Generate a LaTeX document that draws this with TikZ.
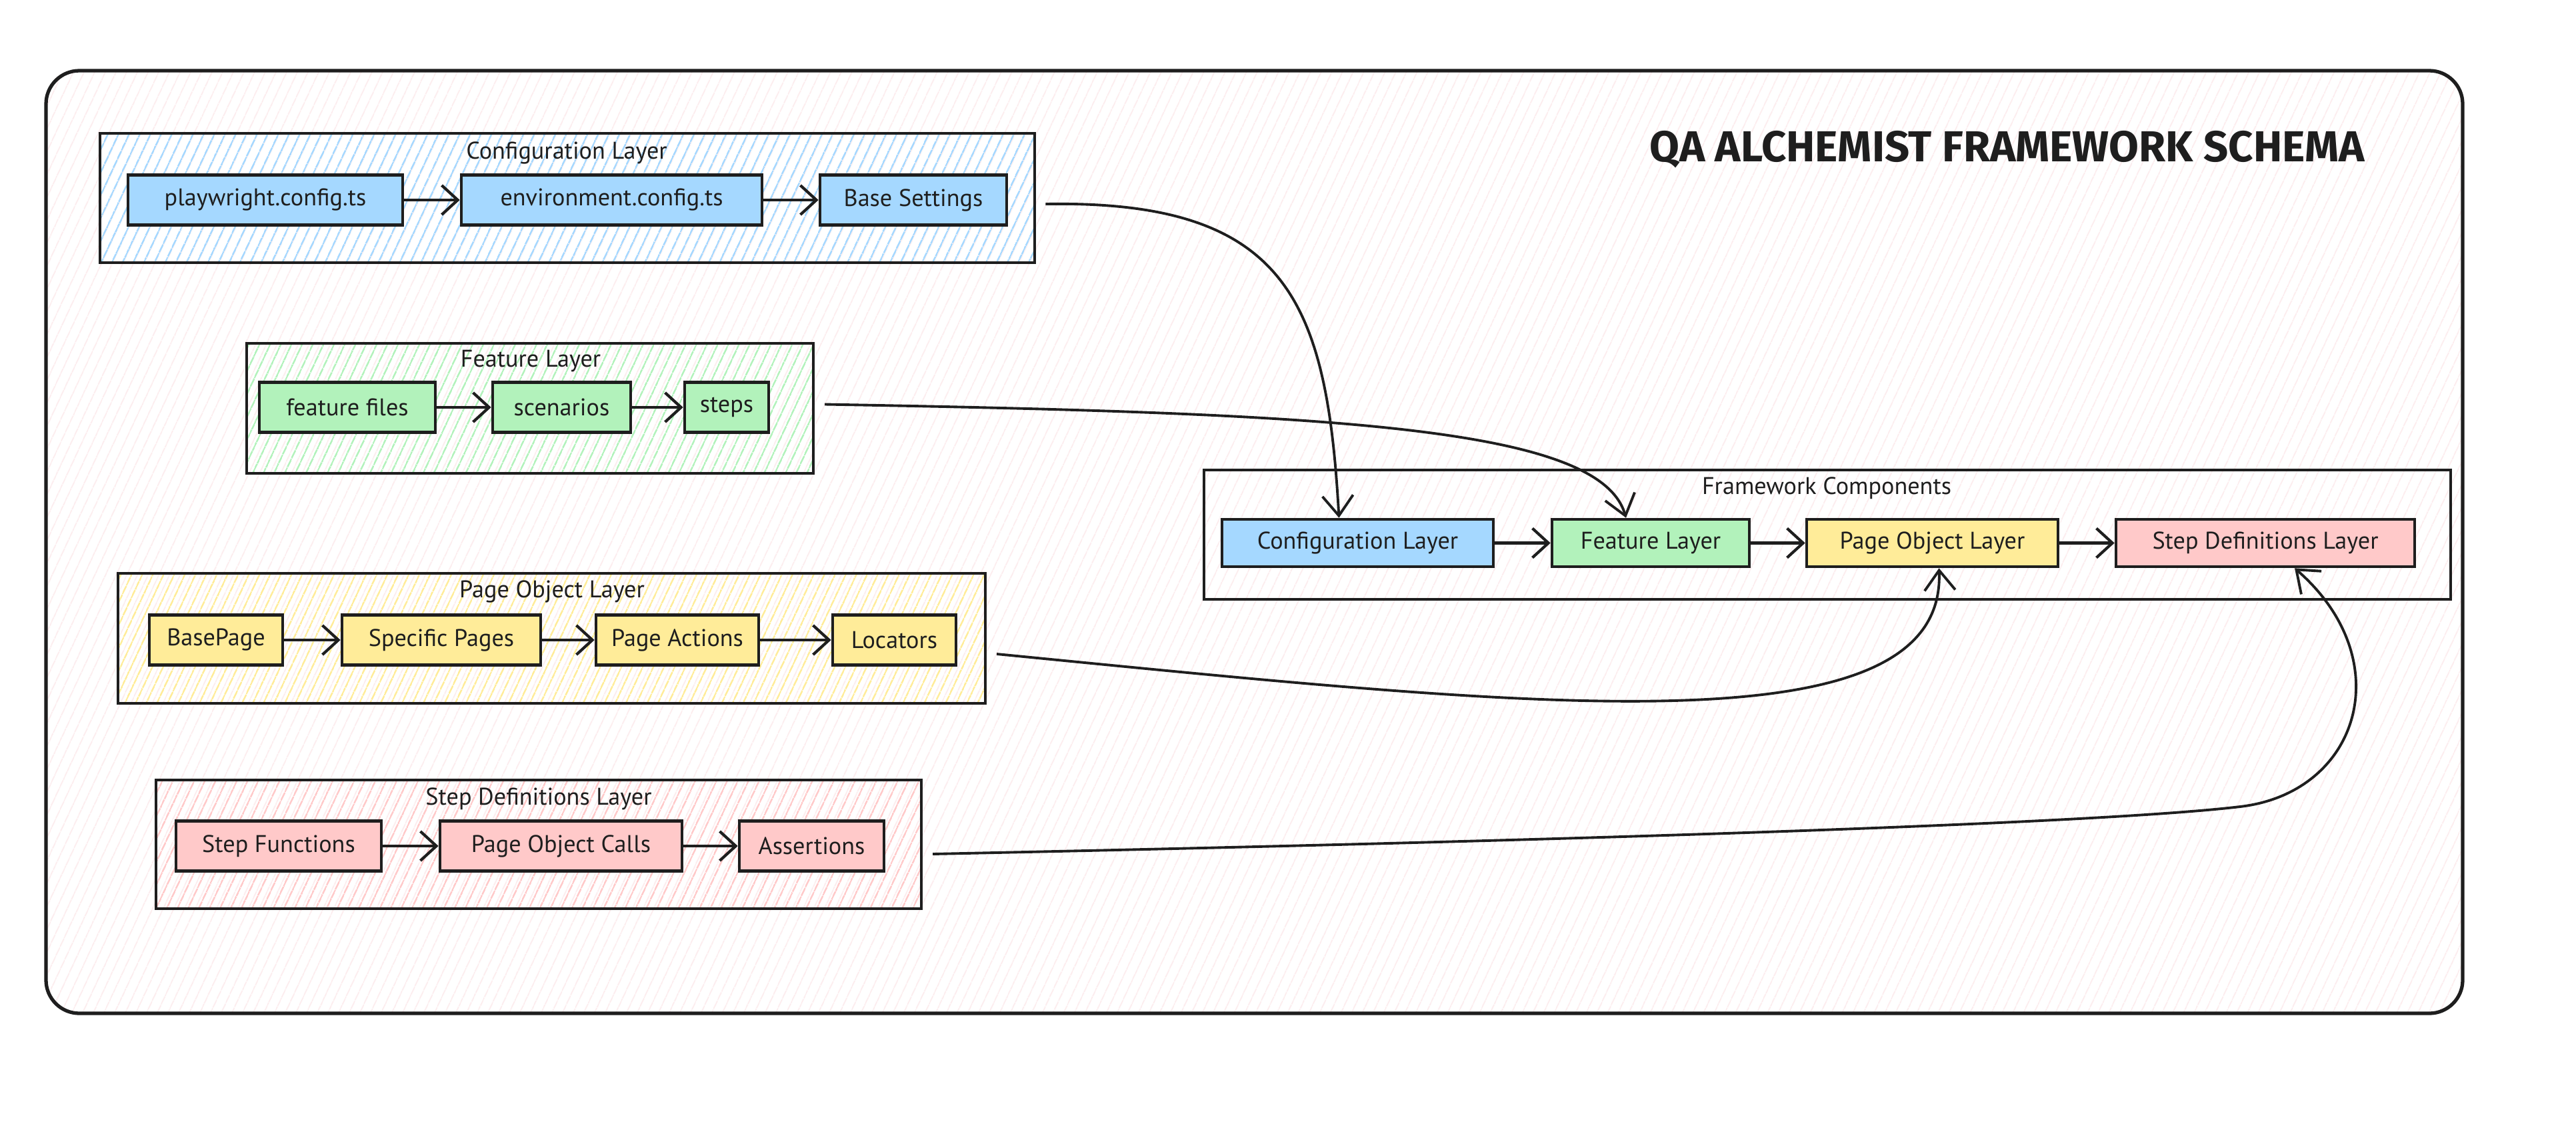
\documentclass[tikz,border=0pt]{standalone}
\usepackage{fontspec}
\setmainfont{PT Sans}
\newfontfamily\titlefont{Fira Sans}
\usetikzlibrary{arrows.meta,patterns.meta,calc}
\definecolor{ink}{HTML}{1E1E1E}
\definecolor{cblue}{HTML}{A5D8FF}
\definecolor{cgreen}{HTML}{B2F2BB}
\definecolor{cyellow}{HTML}{FFEC99}
\definecolor{cred}{HTML}{FFC9C9}
\definecolor{bgline}{HTML}{FCE8EA}
\tikzset{
  lbl/.style={font=\fontsize{10.3}{12}\selectfont, text=ink, inner sep=0pt},
  box/.style={draw=ink, line width=1.3pt, lbl, minimum height=0.75cm},
  bluebox/.style={box, fill=cblue},
  greenbox/.style={box, fill=cgreen},
  yellowbox/.style={box, fill=cyellow},
  redbox/.style={box, fill=cred},
  grp/.style={draw=ink, line width=1.2pt, inner sep=0pt},
  hatch/.style={pattern={Lines[angle=65,distance=1.4mm,line width=0.75pt]}, pattern color=#1},
  bghatch/.style={pattern={Lines[angle=65,distance=1.4mm,line width=0.45pt]}, pattern color=#1},
  flow/.style={draw=ink, line width=1.2pt, -{Straight Barb[length=2.4mm,width=4.4mm,line width=1.2pt]}},
  link/.style={draw=ink, line width=1.1pt, -{Straight Barb[length=3mm,width=4.6mm,line width=1.1pt]}},
}
\begin{document}
\begin{tikzpicture}[x=1cm,y=-1cm]
\useasboundingbox[fill=white] (0,0) rectangle (38.64,16.82);
% outer frame
\node[draw=ink, line width=1.5pt, rounded corners=0.5cm, bghatch=bgline, minimum width=36.25cm, minimum height=14.14cm, inner sep=0pt] (frame) at (18.815,8.13) {};
\node[font=\titlefont\bfseries\fontsize{18.5}{22}\selectfont, text=ink, inner sep=0pt] (title) at (30.11,2.24) {QA ALCHEMIST FRAMEWORK SCHEMA};

% Configuration layer group
\node[grp, hatch=cblue, minimum width=14.02cm, minimum height=1.94cm] (gconf) at (8.51,2.97) {};
\node[lbl] (tconf) at (8.50,2.29) {Configuration Layer};
\node[bluebox, minimum width=4.12cm] (pw) at (3.98,3.0) {playwright.config.ts};
\node[bluebox, minimum width=4.51cm] (env) at (9.175,3.0) {environment.config.ts};
\node[bluebox, minimum width=2.80cm] (base) at (13.70,3.0) {Base Settings};
\draw[flow] (pw) -- (env);
\draw[flow] (env) -- (base);

% Feature layer group
\node[grp, hatch=cgreen, minimum width=8.5cm, minimum height=1.95cm] (gfeat) at (7.95,6.125) {};
\node[lbl] (tfeat) at (7.96,5.42) {Feature Layer};
\node[greenbox, minimum width=2.64cm] (ff) at (5.21,6.11) {feature files};
\node[greenbox, minimum width=2.07cm] (sc) at (8.425,6.11) {scenarios};
\node[greenbox, minimum width=1.26cm] (st) at (10.90,6.11) {steps};
\draw[flow] (ff) -- (sc);
\draw[flow] (sc) -- (st);

% Page object layer group
\node[grp, hatch=cyellow, minimum width=13.01cm, minimum height=1.95cm] (gpage) at (8.275,9.575) {};
\node[lbl] (tpage) at (8.28,8.87) {Page Object Layer};
\node[yellowbox, minimum width=2.0cm] (bp) at (3.24,9.60) {BasePage};
\node[yellowbox, minimum width=2.98cm] (sp) at (6.62,9.60) {Specific Pages};
\node[yellowbox, minimum width=2.44cm] (pa) at (10.16,9.60) {Page Actions};
\node[yellowbox, minimum width=1.85cm] (lo) at (13.415,9.60) {Locators};
\draw[flow] (bp) -- (sp);
\draw[flow] (sp) -- (pa);
\draw[flow] (pa) -- (lo);

% Step definitions layer group
\node[grp, hatch=cred, minimum width=11.48cm, minimum height=1.93cm] (gstep) at (8.08,12.665) {};
\node[lbl] (tstep) at (8.08,11.98) {Step Definitions Layer};
\node[redbox, minimum width=3.08cm] (sf) at (4.18,12.69) {Step Functions};
\node[redbox, minimum width=3.63cm] (poc) at (8.415,12.69) {Page Object Calls};
\node[redbox, minimum width=2.17cm] (as) at (12.175,12.69) {Assertions};
\draw[flow] (sf) -- (poc);
\draw[flow] (poc) -- (as);

% Framework components group
\node[grp, minimum width=18.70cm, minimum height=1.94cm] (gfc) at (27.41,8.02) {};
\node[lbl] (tfc) at (27.40,7.32) {Framework Components};
\node[bluebox, minimum width=4.07cm, minimum height=0.71cm] (cl) at (20.365,8.145) {Configuration Layer};
\node[greenbox, minimum width=2.96cm, minimum height=0.71cm] (fl) at (24.76,8.145) {Feature Layer};
\node[yellowbox, minimum width=3.77cm, minimum height=0.71cm] (pol) at (28.985,8.145) {Page Object Layer};
\node[redbox, minimum width=4.48cm, minimum height=0.71cm] (sdl) at (33.98,8.145) {Step Definitions Layer};
\draw[flow] (cl) -- (fl);
\draw[flow] (fl) -- (pol);
\draw[flow] (pol) -- (sdl);

% links
\draw[link] ($(gconf.east)+(0.15,0.09)$) .. controls (19.3,3.0) and (19.9,4.5) .. ($(cl.north)+(-0.28,0)$);
\draw[link] ($(gfeat.east)+(0.15,-0.06)$) .. controls (20,6.2) and (24.0,6.4) .. ($(fl.north)+(-0.37,0)$);
\draw[link] ($(gpage.east)+(0.15,0.235)$) .. controls (23,10.6) and (29.2,11.3) .. ($(pol.south)+(0.1,0)$);
\coordinate (bend) at (33.6,12.1);
\draw[link] ($(gstep.east)+(0.15,0.145)$) .. controls (24,12.6) and (31.5,12.35) .. (bend) .. controls (35.4,11.89) and (36.0,9.9) .. ($(sdl.south)+(0.44,0)$);
\end{tikzpicture}
\end{document}
